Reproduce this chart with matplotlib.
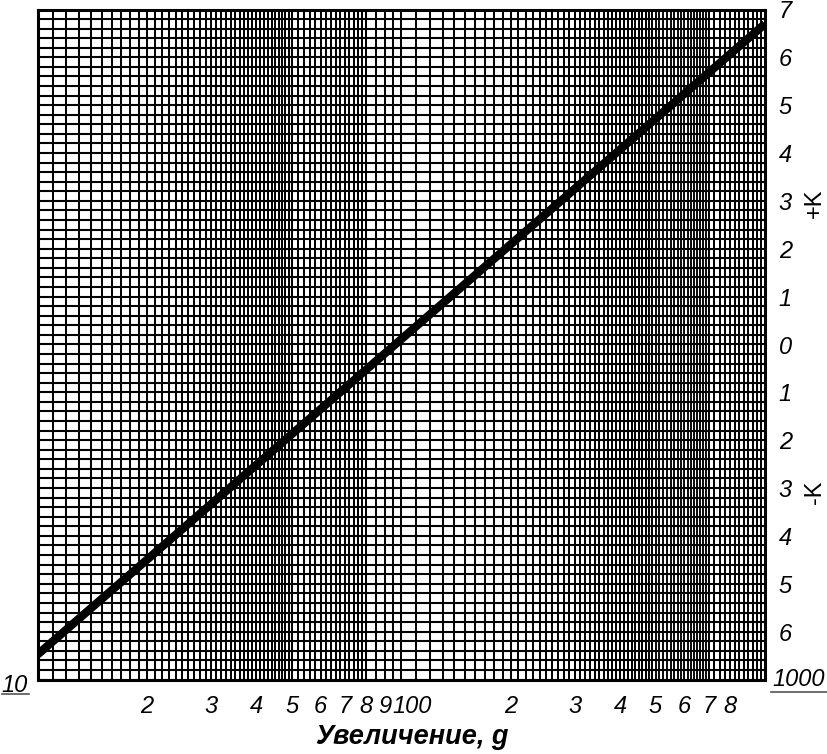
"""
Номограмма: зависимость K от увеличения g (лог. шкала 10–1000).
Сетка как на миллиметровке, толстая прямая поверх.
"""
import numpy as np
import matplotlib
matplotlib.use("Agg")
import matplotlib.pyplot as plt
from matplotlib.lines import Line2D

# концы прямой: увеличение g и значение K
G = [10, 1000]
K = [-6.48, 6.70]

# подписи шкал
X_TICKS = [20, 30, 40, 50, 60, 70, 80, 90, 200, 300, 400, 500, 600, 700, 800]
X_LABELS = ["2", "3", "4", "5", "6", "7", "8", "9", "2", "3", "4", "5", "6", "7", "8"]
Y_TICKS = list(range(-6, 8))
Y_LABELS = [str(abs(v)) for v in Y_TICKS]

# шаги сетки (как на бумаге, по участкам декады)
SETKA_X = np.concatenate([
    np.arange(10, 50, 1), np.arange(50, 80, 2), np.arange(80, 100, 5),
    np.arange(100, 500, 10), np.arange(700, 1001, 25),
])
SETKA_X_GUSTO = np.arange(500, 700, 12.5)   # самый плотный участок
SETKA_Y = np.arange(-7, 7.01, 0.2)

W, H = 827, 754
fig = plt.figure(figsize=(W / 100, H / 100), dpi=100)
ax = fig.add_axes([37.5 / W, 1 - 679.5 / H, (765 - 37.5) / W, (679.5 - 9.5) / H])
ax.set_xscale("log")
ax.set_xlim(10, 1000)
ax.set_ylim(-7, 7)

ax.vlines(SETKA_X, -7, 7, colors="black", linewidth=1.45, zorder=1)
ax.vlines(SETKA_X_GUSTO, -7, 7, colors="black", linewidth=1.35, zorder=1)
ax.hlines(SETKA_Y, 10, 1000, colors="black", linewidth=1.5, zorder=1)
ax.plot(G, K, color="black", linewidth=6, solid_capstyle="butt", zorder=3)

for s in ax.spines.values():
    s.set_linewidth(2.2)

fnt = dict(family="Liberation Sans", style="italic", size=17)

ax.xaxis.set_major_locator(matplotlib.ticker.FixedLocator(X_TICKS))
ax.xaxis.set_minor_locator(matplotlib.ticker.NullLocator())
ax.set_xticklabels(X_LABELS, **fnt)
ax.tick_params(axis="x", length=0, pad=11)

ax.yaxis.tick_right()
ax.set_yticks(Y_TICKS)
ax.set_yticklabels(Y_LABELS, **fnt)
ax.tick_params(axis="y", length=0, pad=10)

# "100" вплотную к "9"
ax.annotate("100", xy=(100, -7), xytext=(7.5, -11), textcoords="offset points",
            ha="center", va="top", **fnt)

# крайние значения с подчёркиванием
fig.text(15 / W, 1 - 685 / H, "10", ha="center", va="center", **fnt)
fig.text(799 / W, 1 - 680 / H, "1000", ha="center", va="center", **fnt)
fig.add_artist(Line2D([2 / W, 29 / W], [1 - 694 / H] * 2, color="#555555", lw=1.2))
fig.add_artist(Line2D([771 / W, 827 / W], [1 - 692 / H] * 2, color="#555555", lw=1.2))

fig.text(815 / W, 1 - 203 / H, "+K", rotation=90, ha="center", va="center",
         family="Liberation Sans", size=17)
fig.text(815 / W, 1 - 492 / H, "-K", rotation=90, ha="center", va="center",
         family="Liberation Sans", size=17)

fig.text(412 / W, 1 - 737 / H, "Увеличение, g", ha="center", va="center",
         family="Liberation Sans", weight="bold", style="italic", size=19.5)

fig.savefig("out.png", dpi=100)
